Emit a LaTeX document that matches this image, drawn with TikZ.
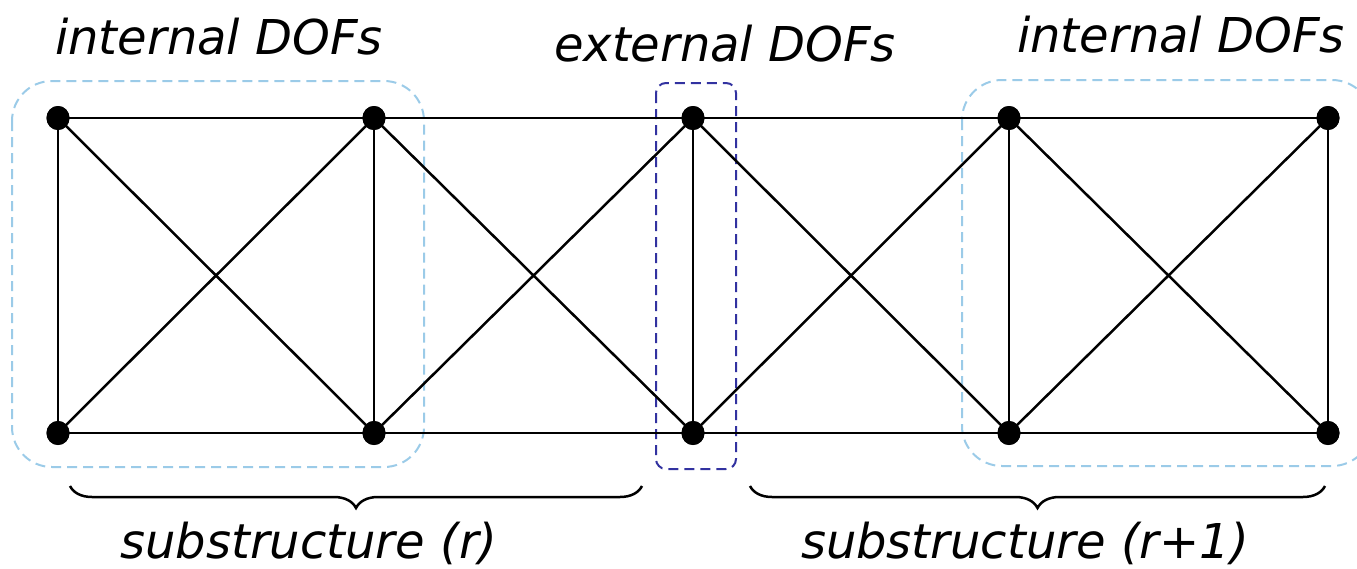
\documentclass[tikz,border=0pt]{standalone}
\usepackage{fontspec}
\setmainfont{DejaVu Sans}
\usetikzlibrary{decorations.pathreplacing,shapes.geometric}
\definecolor{lightb}{RGB}{155,203,232}
\definecolor{darkb}{RGB}{50,50,160}
\tikzset{
  dof/.style={ellipse,fill=black,inner sep=0pt,minimum width=23pt,minimum height=24pt},
  edge/.style={line width=2.5pt},
  lab/.style={font=\fontsize{48}{56}\selectfont\itshape, anchor=base, inner sep=0pt},
  ibox/.style={draw=lightb,line width=2pt,dash pattern=on 10pt off 6pt,rounded corners=40pt},
  ebox/.style={draw=darkb,line width=2pt,dash pattern=on 10pt off 6pt,rounded corners=10pt},
  bracestyle/.style={line width=2.5pt,decorate,decoration={brace,mirror,amplitude=22pt}}
}
\begin{document}
\begin{tikzpicture}[x=1pt,y=-1pt]
\useasboundingbox (0,0) rectangle (1357,568);
% boxes
\draw[ibox] (12,81) rectangle (424,467);
\draw[ibox] (962,80) rectangle (1372,466);
\draw[ebox] (656,83) rectangle (736,469);
% nodes
\foreach \i/\x in {1/58,2/374,3/693,4/1009,5/1328}{
  \node[dof] (t\i) at (\x,118) {};
  \node[dof] (b\i) at (\x,433) {};
}
% edges
\foreach \i in {1,...,5}{ \draw[edge] (t\i.center) -- (b\i.center); }
\foreach \i/\j in {1/2,2/3,3/4,4/5}{
  \draw[edge] (t\i.center) -- (t\j.center);
  \draw[edge] (b\i.center) -- (b\j.center);
  \draw[edge] (t\i.center) -- (b\j.center);
  \draw[edge] (b\i.center) -- (t\j.center);
}
\foreach \i in {1,...,5}{
  \fill (t\i) ellipse (11.5pt and 12pt);
  \fill (b\i) ellipse (11.5pt and 12pt);
}
% labels
\node[lab] (l1) at (219,54) {internal DOFs};
\node[lab] (l2) at (725,61) {external DOFs};
\node[lab] (l3) at (1181,52) {internal DOFs};
% braces
\coordinate (ba) at (70,486);
\coordinate (bb) at (642,486);
\coordinate (bc) at (750,486);
\coordinate (bd) at (1325,486);
\draw[bracestyle] (ba) -- (bb);
\draw[bracestyle] (bc) -- (bd);
\node[lab] (s1) at (309,558) {substructure (r)};
\node[lab] (s2) at (1025,558) {substructure (r+1)};
\end{tikzpicture}
\end{document}
